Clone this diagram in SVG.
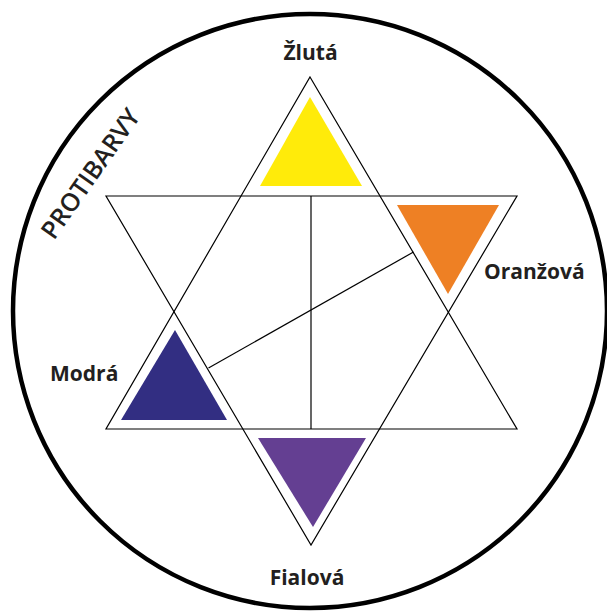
<svg xmlns="http://www.w3.org/2000/svg" width="607" height="613" viewBox="0 0 607 613">
<style>
.ln{fill:none;stroke:#000;stroke-width:1.2;stroke-linejoin:miter}
.lbl{font-family:"Open Sans",sans-serif;font-weight:700;font-size:21px;fill:#231f20}
</style>
<rect width="607" height="613" fill="#fff"/>
<g id="circle"><ellipse cx="310" cy="311" rx="297" ry="297" fill="none" stroke="#000" stroke-width="4.5"/></g>
<g id="connectors">
<polygon class="ln" points="310,77 517,429 106,429"/>
<polygon class="ln" points="106,196 517,196 311,545"/>
<line class="ln" x1="311" y1="196" x2="311" y2="429"/>
<line class="ln" x1="413.5" y1="252" x2="208.5" y2="368"/>
</g>
<g id="yellow"><polygon points="310,97 362,186 260,186" fill="#ffeb0a"/><text class="lbl" x="310.5" y="60" text-anchor="middle">Žlutá</text></g>
<g id="orange"><polygon points="397,205 499,205 448,294" fill="#ee8024"/><text class="lbl" x="484" y="279">Oranžová</text></g>
<g id="blue"><polygon points="175,330 227,420 121,420" fill="#322e82"/><text class="lbl" x="50" y="381">Modrá</text></g>
<g id="purple"><polygon points="258,438 366,438 313,527" fill="#643f92"/><text class="lbl" x="307" y="585" text-anchor="middle">Fialová</text></g>
<g id="title"><text x="54" y="241" transform="rotate(-55 54 241)" style="font-family:'Open Sans',sans-serif;font-weight:600;font-size:25px;fill:#231f20">PROTIBARVY</text></g>
</svg>
